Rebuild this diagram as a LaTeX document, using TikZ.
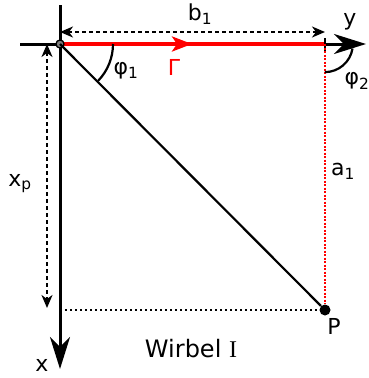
\documentclass[tikz,border=0pt]{standalone}
\usepackage{fontspec}
\setmainfont{DejaVu Sans}
\newfontfamily\romanI{Liberation Serif}
\usetikzlibrary{arrows.meta}

\begin{document}
\begin{tikzpicture}[
    x=1pt, y=-1pt,
    font=\fontsize{22}{26}\selectfont,
    axis/.style={line width=3pt},
    bigtip/.style={-{Stealth[length=32pt,width=20pt,inset=10pt]}},
    dimarr/.style={line width=1.8pt, dash pattern=on 4pt off 3pt,
                   {Stealth[length=13pt,width=11pt,inset=4pt]}-{Stealth[length=13pt,width=11pt,inset=4pt]}},
    gamma/.style={red, line width=3.5pt},
    helper/.style={line width=2.6pt, dash pattern=on 2.4pt off 2.6pt},
    reddot/.style={red, line width=2pt, dash pattern=on 2pt off 1.5pt},
    dot/.style={circle, fill, inner sep=0pt, minimum size=11pt},
    lbl/.style={inner sep=1pt},
  ]
  \useasboundingbox (0,0) rectangle (369,378);

  % points
  \coordinate (O) at (60,44);
  \coordinate (Q) at (325,44);
  \coordinate (xtop) at (60,5);
  \coordinate (xend) at (60,369);
  \coordinate (ystart) at (20,44);
  \coordinate (yend) at (366,44);
  \coordinate (Px) at (60,310);
  \node[dot] (P) at (325,310) {};

  % axes
  \draw[axis] (xtop) -- (O);
  \draw[axis, bigtip] (O) -- (xend);
  \draw[axis, bigtip] (ystart) -- (yend);

  % vortex filament
  \draw[gamma] (O) -- (Q);
  \draw[gamma, -{Stealth[length=20pt,width=15pt,inset=5pt]}] (O) -- (192,44);
  \draw[line width=2.6pt] (325,38) -- (325,51);
  \draw[line width=1.3pt, fill=gray] (O) circle[radius=4];

  % geometry
  \draw[line width=2.2pt] (O) -- (P);
  \draw[helper] (Px) -- (P);
  \draw[reddot] (Q) -- (P);
  \draw[line width=2.2pt] (O) ++(53,0) arc[start angle=0, end angle=44, radius=53];
  \draw[line width=2.2pt] (Q) ++(27.5,4.5) arc[start angle=9, end angle=90, radius=28];

  % dimensions
  \coordinate (b1l) at (60,32);
  \coordinate (b1r) at (325,32);
  \coordinate (xpt) at (47,44);
  \coordinate (xpb) at (47,308);
  \draw[dimarr] (b1l) -- (b1r);
  \draw[dimarr] (xpt) -- (xpb);

  % labels
  \node[lbl] (lb) at (200,14) {b\textsubscript{1}};
  \node[lbl] (ly) at (350,22) {y};
  \node[lbl] (lx) at (42,365) {x};
  \node[lbl] (lxp) at (20,184) {x\textsubscript{p}};
  \node[lbl] (la) at (343,171) {a\textsubscript{1}};
  \node[lbl] (lP) at (334,326) {P};
  \node[lbl] (lphi1) at (126,71) {φ\textsubscript{1}};
  \node[lbl] (lphi2) at (357,81) {φ\textsubscript{2}};
  \node[lbl, red] (lG) at (174,67) {Γ};
  \node[lbl, font=\fontsize{24}{28}\selectfont] (title) at (191,349) {Wirbel {\romanI I}};
\end{tikzpicture}
\end{document}
